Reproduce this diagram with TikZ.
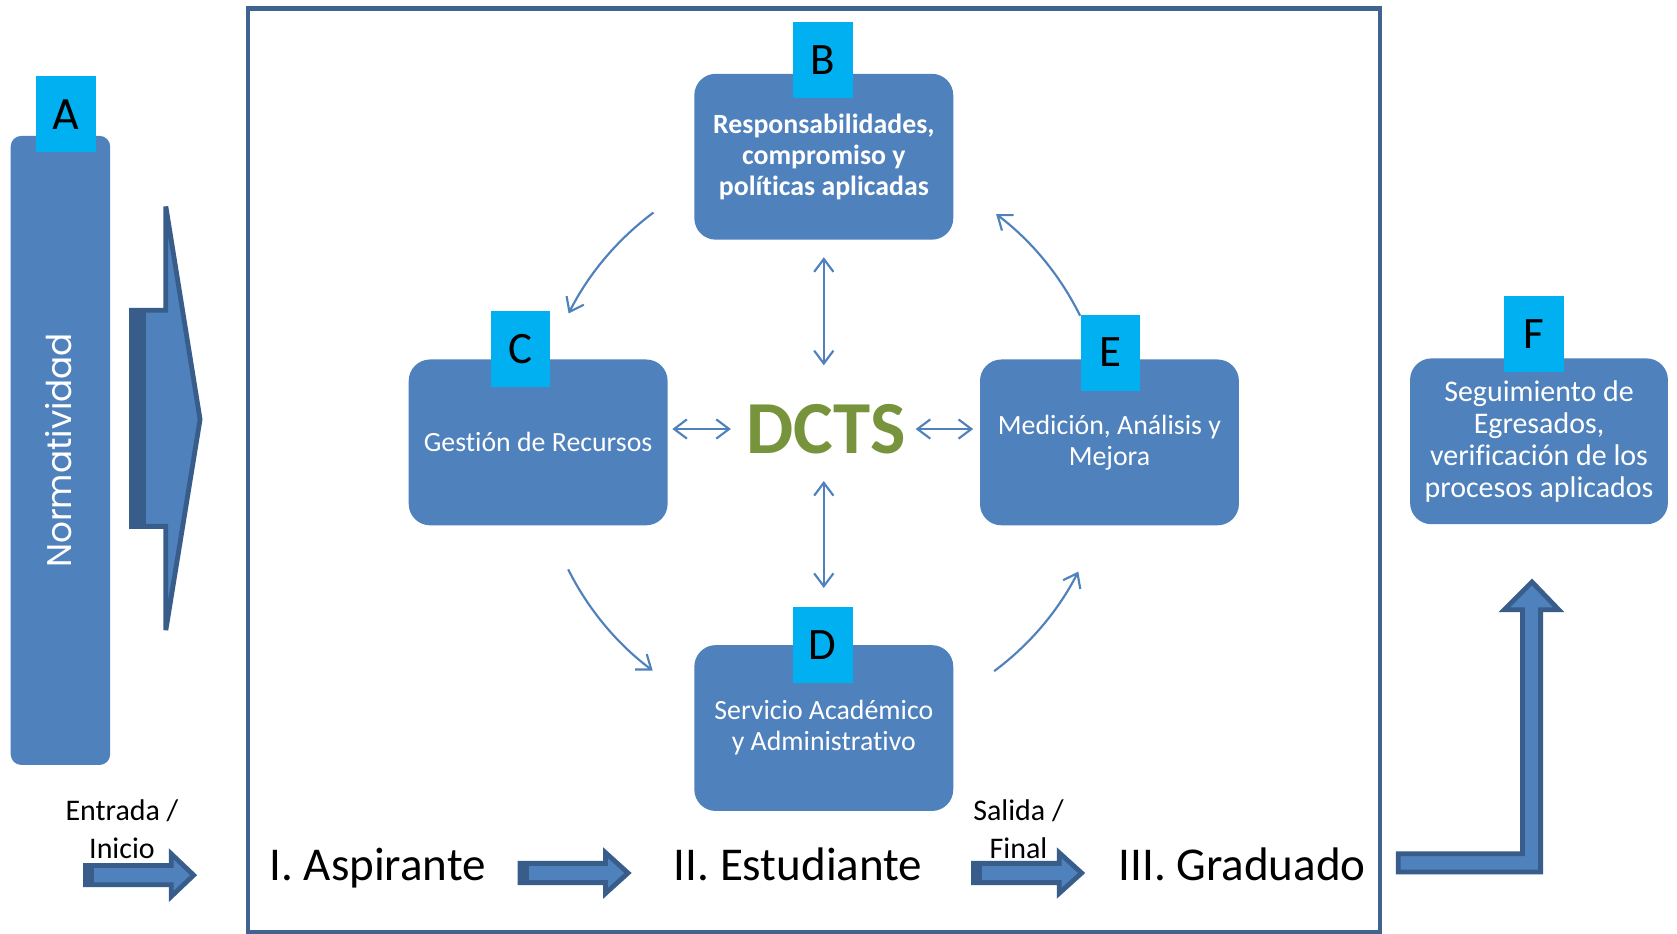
\documentclass[tikz,border=0pt]{standalone}
\usepackage{fontspec}
\setmainfont{Carlito}[Ligatures={NoCommon}]
\newfontfamily\geofont{Poppins}
\usetikzlibrary{arrows.meta}
\definecolor{boxblue}{HTML}{4F81BD}
\definecolor{darkblue}{HTML}{385D8A}
\definecolor{framecol}{HTML}{41638F}
\definecolor{cyanlab}{HTML}{00B0F0}
\definecolor{dctsgreen}{HTML}{77933C}
\begin{document}
\begin{tikzpicture}[x=0.5pt,y=-0.5pt,
  procbox/.style={fill=boxblue, rounded corners=10pt, minimum width=121pt, minimum height=77.5pt, inner sep=0pt, text=white, align=center, font=\fontsize{13}{14.5}\selectfont},
  labbox/.style={fill=cyanlab, minimum width=28pt, minimum height=35.5pt, inner sep=0pt, font=\fontsize{21}{24}\selectfont},
  blk/.style={fill=boxblue, draw=darkblue, line width=2.25pt, line join=miter},
  dblarr/.style={draw=boxblue, line width=1pt, {Straight Barb[length=6pt,width=9pt]}-{Straight Barb[length=6pt,width=9pt]}},
  curvarr/.style={draw=boxblue, line width=1pt, -{Straight Barb[length=6pt,width=9pt]}},
  bigtxt/.style={anchor=base, inner sep=0pt, font=\fontsize{22}{26}\selectfont},
  smalltxt/.style={anchor=base, inner sep=0pt, font=\fontsize{14}{17}\selectfont}
]
\useasboundingbox (0,0) rectangle (1567.5,873);
\fill[white] (0,0) rectangle (1567.5,873);

% frame
\draw[framecol, line width=2pt] (232,8) rectangle (1290,871);

% A column
\node[fill=boxblue, rounded corners=5pt, minimum width=46.5pt, minimum height=294pt, inner sep=0pt] (A) at (56.5,421) {};
\node[rotate=90, text=white, inner sep=0pt, font=\geofont\fontsize{16}{18}\selectfont] (norm) at (55,421) {Normatividad};
\node[labbox, font=\geofont\fontsize{20}{24}\selectfont] (Alab) at (62,107) {A};

% big chevron arrow
\draw[blk] (123,290) -- (155,290) -- (155,193) -- (187,392) -- (155,589) -- (155,492) -- (123,492) -- cycle;
\fill[darkblue] (122,289) rectangle (136,493);

% process boxes
\node[procbox, font=\bfseries\fontsize{13}{14.5}\selectfont] (B) at (770,146.5) {Responsabilidades,\\compromiso y\\políticas aplicadas};
\node[procbox] (C) at (503,413.5) {Gestión de Recursos};
\node[procbox] (E) at (1037,413.5) {Medición, Análisis y\\Mejora};
\node[procbox] (D) at (770,680.5) {Servicio Académico\\y Administrativo};
\node[procbox, minimum width=120.5pt, font=\fontsize{14}{15}\selectfont] (F) at (1438.5,412.5) {Seguimiento de\\Egresados,\\verificación de los\\procesos aplicados};

% labels
\node[labbox] (Blab) at (769,56) {B};
\node[labbox] (Clab) at (486.5,326.5) {C};
\node[labbox] (Elab) at (1038,329.5) {E};
\node[labbox] (Dlab) at (769,602.5) {D};
\node[labbox] (Flab) at (1434,312.5) {F};

% centre
\node[text=dctsgreen, inner sep=0pt, font=\bfseries\fontsize{35}{40}\selectfont] (dcts) at (772,401) {DCTS};

% double arrows
\draw[dblarr, shorten <=2pt, shorten >=7pt] (C.east |- dcts.center) -- (dcts.west);
\draw[dblarr, shorten <=4.5pt, shorten >=3pt] (dcts.east) -- (E.west |- dcts.center);
\draw[dblarr, shorten <=8pt, shorten >=18pt] (B.south) -- (B.south |- dcts.north);
\draw[dblarr, shorten <=12.5pt, shorten >=26.5pt] (D.north |- dcts.south) -- (D.north);

% cycle arcs
\coordinate (cc) at (770,413);
\draw[curvarr] (cc) ++(-126.6:267) arc[start angle=-126.6, end angle=-153.3, radius=267];
\draw[curvarr] (cc) ++(-206.5:267) arc[start angle=-206.5, end angle=-233.2, radius=267];
\draw[curvarr] (cc) ++(-306.6:267) arc[start angle=-306.6, end angle=-333.0, radius=267];
\draw[curvarr] (cc) ++(-26.2:267) arc[start angle=-26.2, end angle=-52.9, radius=267];

% bottom row
\node[smalltxt] (ent1) at (114,767) {Entrada /};
\node[smalltxt] (ent2) at (114,802) {Inicio};
\node[smalltxt] (sal1) at (952,767) {Salida /};
\node[smalltxt] (sal2) at (952,802) {Final};
\node[bigtxt] (asp) at (353,823) {I. Aspirante};
\node[bigtxt] (est) at (746,823) {II. Estudiante};
\node[bigtxt] (grad) at (1161,823) {III. Graduado};

\draw[blk] (80,809) -- (160,809) -- (160,798) -- (181,818) -- (160,838) -- (160,827) -- (80,827) -- cycle;
\fill[darkblue] (78,807) rectangle (88,829);
\draw[blk] (486,807) -- (566,807) -- (566,797) -- (587,816) -- (566,835) -- (566,825) -- (486,825) -- cycle;
\fill[darkblue] (484,805) rectangle (494,827);
\draw[blk] (910,807) -- (990,807) -- (990,797) -- (1011,816) -- (990,835) -- (990,825) -- (910,825) -- cycle;
\fill[darkblue] (908,805) rectangle (918,827);
\draw[blk] (1307,798) -- (1423,798) -- (1423,570) -- (1406,570) -- (1432,544) -- (1457,570) -- (1440,570) -- (1440,815) -- (1307,815) -- cycle;
\end{tikzpicture}
\end{document}
